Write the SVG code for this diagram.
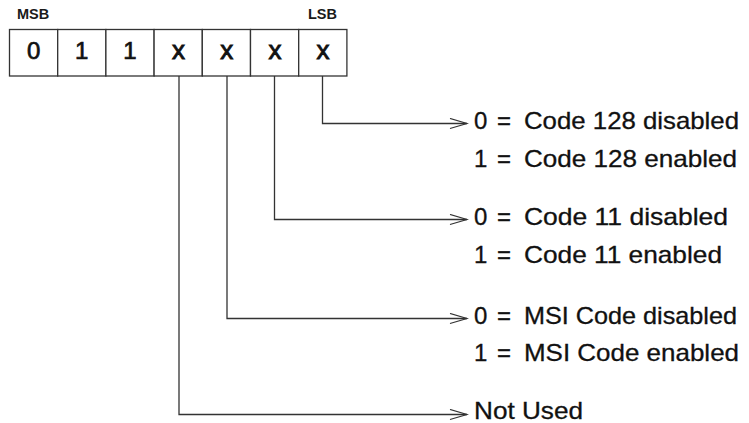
<svg xmlns="http://www.w3.org/2000/svg" width="749" height="423" viewBox="0 0 749 423">
<style>
.lbl{font-family:"Liberation Sans",Arial,sans-serif;font-size:14.5px;font-weight:bold;fill:#1a1a1a}
.cell{fill:#fff;stroke:#333;stroke-width:1.3}
.bit{font-family:"Liberation Sans",Arial,sans-serif;font-size:24px;fill:#111;text-anchor:middle;stroke:#111;stroke-width:0.7}
.bx{font-family:"Liberation Sans",Arial,sans-serif;font-size:26px;fill:#111;text-anchor:middle;stroke:#111;stroke-width:0.9}
.t{font-family:"Liberation Sans",Arial,sans-serif;font-size:24px;fill:#111;stroke:#111;stroke-width:0.3}
.ln{fill:none;stroke:#333;stroke-width:1.3}
</style>
<defs>
<marker id="arr" markerWidth="20" markerHeight="12" refX="18" refY="6" orient="auto" markerUnits="userSpaceOnUse">
<path d="M1,1 L18,6 L1,11" fill="none" stroke="#333" stroke-width="1.3"/>
</marker>
</defs>
<rect width="749" height="423" fill="#fff"/>
<g id="register">
<text class="lbl" x="17" y="19">MSB</text>
<text class="lbl" x="308" y="19">LSB</text>
<g id="bit6"><rect class="cell" x="9.5" y="29.5" width="48.2" height="46.5"/><text class="bit" x="33.6" y="59">0</text></g>
<g id="bit5"><rect class="cell" x="57.7" y="29.5" width="48.2" height="46.5"/><text class="bit" x="81.8" y="59">1</text></g>
<g id="bit4"><rect class="cell" x="105.9" y="29.5" width="48.2" height="46.5"/><text class="bit" x="130" y="59">1</text></g>
<g id="bit3"><rect class="cell" x="154.1" y="29.5" width="48.2" height="46.5"/><text class="bx" x="178.6" y="58.5">x</text></g>
<g id="bit2"><rect class="cell" x="202.3" y="29.5" width="48.2" height="46.5"/><text class="bx" x="226.8" y="58.5">x</text></g>
<g id="bit1"><rect class="cell" x="250.5" y="29.5" width="48.2" height="46.5"/><text class="bx" x="275" y="58.5">x</text></g>
<g id="bit0"><rect class="cell" x="298.7" y="29.5" width="48.2" height="46.5"/><text class="bx" x="323" y="58.5">x</text></g>
</g>
<g id="connectors">
<path class="ln" d="M322.5,76 V123.5 H467" marker-end="url(#arr)"/>
<path class="ln" d="M274.5,76 V219.5 H467" marker-end="url(#arr)"/>
<path class="ln" d="M227,76 V318.5 H467" marker-end="url(#arr)"/>
<path class="ln" d="M179,76 V414.5 H467" marker-end="url(#arr)"/>
</g>
<g id="code128">
<text class="t" y="129"><tspan x="474">0</tspan><tspan x="497">=</tspan><tspan x="524" textLength="215" lengthAdjust="spacingAndGlyphs">Code 128 disabled</tspan></text>
<text class="t" y="167"><tspan x="474">1</tspan><tspan x="497">=</tspan><tspan x="524" textLength="213" lengthAdjust="spacingAndGlyphs">Code 128 enabled</tspan></text>
</g>
<g id="code11">
<text class="t" y="225"><tspan x="474">0</tspan><tspan x="497">=</tspan><tspan x="524" textLength="204" lengthAdjust="spacingAndGlyphs">Code 11 disabled</tspan></text>
<text class="t" y="263"><tspan x="474">1</tspan><tspan x="497">=</tspan><tspan x="524" textLength="198" lengthAdjust="spacingAndGlyphs">Code 11 enabled</tspan></text>
</g>
<g id="msi">
<text class="t" y="324"><tspan x="474">0</tspan><tspan x="497">=</tspan><tspan x="524" textLength="213" lengthAdjust="spacingAndGlyphs">MSI Code disabled</tspan></text>
<text class="t" y="361"><tspan x="474">1</tspan><tspan x="497">=</tspan><tspan x="524" textLength="215" lengthAdjust="spacingAndGlyphs">MSI Code enabled</tspan></text>
</g>
<g id="notused">
<text class="t" x="474" y="419" textLength="109" lengthAdjust="spacingAndGlyphs">Not Used</text>
</g>
</svg>
